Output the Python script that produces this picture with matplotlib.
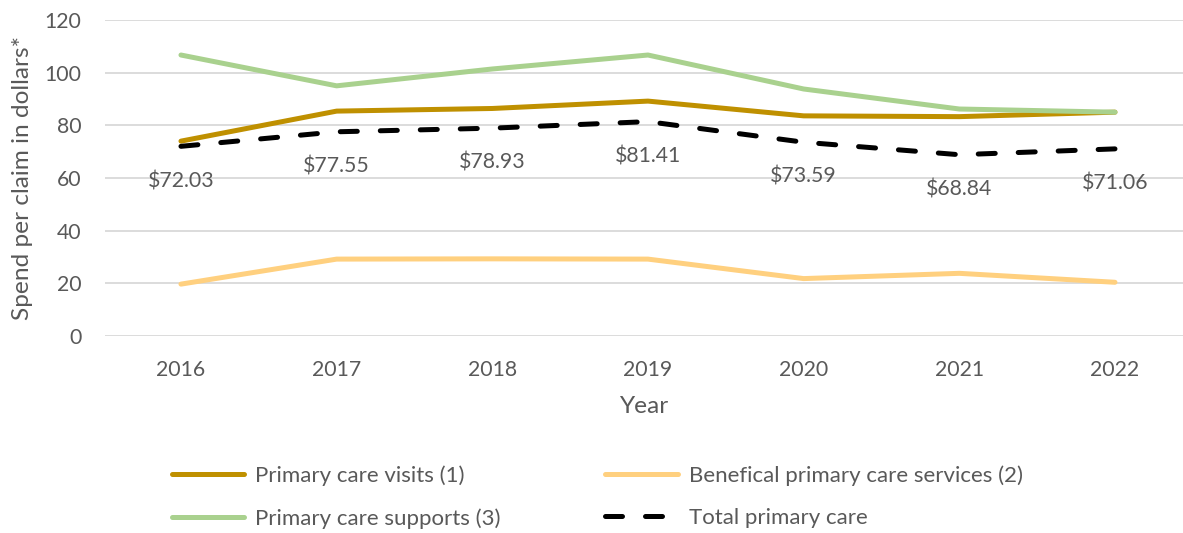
import matplotlib
matplotlib.use("Agg")
import matplotlib.pyplot as plt

years = ["2016", "2017", "2018", "2019", "2020", "2021", "2022"]
visits = [74.0, 85.4, 86.4, 89.2, 83.6, 83.3, 85.0]
beneficial = [19.7, 29.2, 29.3, 29.2, 21.8, 23.8, 20.4]
supports = [106.7, 95.0, 101.4, 106.7, 93.8, 86.2, 85.0]
total = [72.03, 77.55, 78.93, 81.41, 73.59, 68.84, 71.06]
total_labels = ["$72.03", "$77.55", "$78.93", "$81.41", "$73.59", "$68.84", "$71.06"]

plt.rcParams['font.family'] = ['Lato', 'DejaVu Sans']
txt = '#595959'
fs_tick = 15.3
fs_title = 17.6
fs_leg = 16
W, H = 1183, 533
fig = plt.figure(figsize=(W/100, H/100), dpi=100)
ax = fig.add_axes([105/W, 1-336/H, (W-105)/W, (336-20)/H])

x = list(range(len(years)))
l1, = ax.plot(x, visits, color='#BF9000', lw=3.6, solid_capstyle='round', label='Primary care visits (1)')
l2, = ax.plot(x, beneficial, color='#FFD07F', lw=3.6, solid_capstyle='round', label='Benefical primary care services (2)')
l3, = ax.plot(x, supports, color='#A9D18E', lw=3.6, solid_capstyle='round', label='Primary care supports (3)')
l4, = ax.plot(x, total, color='black', lw=3.6, dashes=(3.4, 4.6), dash_capstyle='round', label='Total primary care')

for xi, v, s in zip(x, total, total_labels):
    ax.annotate(s, (xi, v), xytext=(0, -25), textcoords='offset points',
                ha='center', va='center', fontsize=fs_tick, color=txt)

ax.set_xlim(-0.488, 6.437)
ax.set_ylim(0, 120)
ax.set_yticks(range(0, 121, 20))
ax.set_xticks(x)
ax.set_xticklabels(years)
ax.tick_params(axis='both', length=0, labelsize=fs_tick, labelcolor=txt)
ax.tick_params(axis='x', pad=17)
ax.tick_params(axis='y', pad=17)
ax.grid(axis='y', color='#D9D9D9', lw=1.3)
ax.set_axisbelow(True)
for sp in ax.spines.values():
    sp.set_visible(False)
ax.set_ylabel('Spend per claim in dollars*', fontsize=fs_title, color=txt, labelpad=8)
ax.set_xlabel('Year', fontsize=fs_title, color=txt, labelpad=12)

fig.legend(handles=[l1, l3, l2, l4], ncol=2, loc='center left',
           bbox_to_anchor=(152/W, 1-497/H), frameon=False, fontsize=fs_leg,
           handlelength=3.25, handletextpad=0.5, columnspacing=4.7,
           labelspacing=1.0, labelcolor=txt)

fig.savefig('out.png', dpi=100)
